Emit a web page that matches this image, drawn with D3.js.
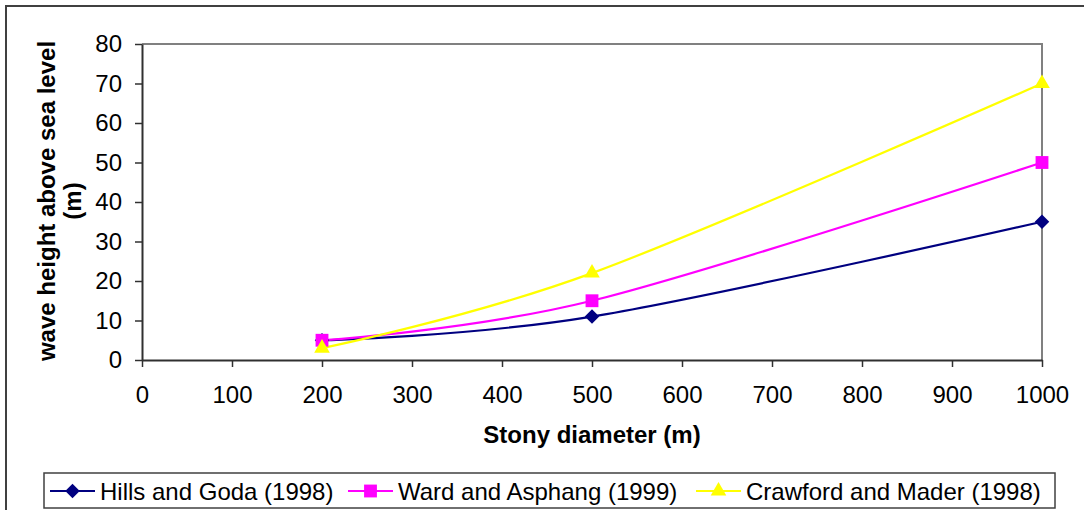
<!DOCTYPE html>
<html>
<head>
<meta charset="utf-8">
<script src="https://cdn.jsdelivr.net/npm/d3@7"></script>
<style>
  body { margin: 0; background: #fff; }
  svg text { font-family: Arial, "Liberation Sans", sans-serif; }
</style>
</head>
<body>
<svg id="chart" width="1084" height="510"></svg>
<script>
// data
const diameters = [200, 500, 1000];
const hillsGoda = [5, 11, 35];
const wardAsphang = [5, 15, 50];
const crawfordMader = [3, 22, 70];
const seriesNames = ["Hills and Goda (1998)", "Ward and Asphang (1999)", "Crawford and Mader (1998)"];
const xTicks = [0, 100, 200, 300, 400, 500, 600, 700, 800, 900, 1000];
const yTicks = [0, 10, 20, 30, 40, 50, 60, 70, 80];

const series = [
  { name: seriesNames[0], values: hillsGoda, color: "#000080", marker: d3.symbolDiamond2, size: 135 },
  { name: seriesNames[1], values: wardAsphang, color: "#FF00FF", marker: d3.symbolSquare2, size: 210 },
  { name: seriesNames[2], values: crawfordMader, color: "#FFFF00", marker: d3.symbolTriangle2, size: 175 }
];

const svg = d3.select("#chart");

// outer chart frame
svg.append("rect")
  .attr("x", 6).attr("y", 6)
  .attr("width", 1090).attr("height", 520)
  .attr("fill", "#fff")
  .attr("stroke", "#404040")
  .attr("stroke-width", 2);

const plot = { left: 142, top: 44, right: 1042, bottom: 360 };

const x = d3.scaleLinear().domain([0, 1000]).range([plot.left, plot.right]);
const y = d3.scaleLinear().domain([0, 80]).range([plot.bottom, plot.top]);

// plot area top/right border
svg.append("path")
  .attr("d", `M${plot.left},${plot.top}H${plot.right}V${plot.bottom}`)
  .attr("fill", "none")
  .attr("stroke", "#808080")
  .attr("stroke-width", 2);

// axes
const xAxis = svg.append("g")
  .attr("transform", `translate(0,${plot.bottom})`)
  .call(d3.axisBottom(x).tickValues(xTicks).tickFormat(d3.format("d"))
    .tickSize(7).tickPadding(19).tickSizeOuter(0));

const yAxis = svg.append("g")
  .attr("transform", `translate(${plot.left},0)`)
  .call(d3.axisLeft(y).tickValues(yTicks).tickSize(7).tickPadding(13).tickSizeOuter(0));

[xAxis, yAxis].forEach(a => {
  a.select(".domain").attr("stroke", "#303030").attr("stroke-width", 2);
  a.selectAll(".tick line").attr("stroke", "#303030").attr("stroke-width", 1.5);
  a.selectAll(".tick text")
    .attr("fill", "#000")
    .style("font-size", "24px")
    .style("font-family", "Arial, 'Liberation Sans', sans-serif");
});

// axis titles
svg.append("text")
  .attr("x", (plot.left + plot.right) / 2)
  .attr("y", 443)
  .attr("text-anchor", "middle")
  .style("font-size", "24px")
  .style("font-weight", "bold")
  .text("Stony diameter (m)");

const yTitle = svg.append("text")
  .attr("transform", `translate(55,201) rotate(-90)`)
  .attr("text-anchor", "middle")
  .style("font-size", "24px")
  .style("font-weight", "bold");
yTitle.append("tspan").attr("x", 0).attr("dy", 0).text("wave height above sea level");
yTitle.append("tspan").attr("x", 0).attr("dy", 26).text("(m)");

// lines
const line = d3.line()
  .x((d, i) => x(diameters[i]))
  .y(d => y(d))
  .curve(d3.curveCatmullRom.alpha(0));

series.forEach(s => {
  svg.append("path")
    .datum(s.values)
    .attr("d", line)
    .attr("fill", "none")
    .attr("stroke", s.color)
    .attr("stroke-width", 2.2);
});

series.forEach(s => {
  svg.selectAll(null)
    .data(s.values)
    .enter()
    .append("path")
    .attr("transform", (d, i) => `translate(${x(diameters[i])},${y(d)})`)
    .attr("d", d3.symbol().type(s.marker).size(s.size))
    .attr("fill", s.color);
});

// legend
svg.append("rect")
  .attr("x", 44).attr("y", 473)
  .attr("width", 1011).attr("height", 35)
  .attr("fill", "#fff")
  .attr("stroke", "#404040")
  .attr("stroke-width", 1.5);

const legendX = [50, 348, 696];
series.forEach((s, i) => {
  const g = svg.append("g").attr("transform", `translate(${legendX[i]},491)`);
  g.append("line")
    .attr("x1", 0).attr("x2", 45)
    .attr("stroke", s.color).attr("stroke-width", 2.2);
  g.append("path")
    .attr("transform", "translate(22.5,0)")
    .attr("d", d3.symbol().type(s.marker).size(s.size))
    .attr("fill", s.color);
  g.append("text")
    .attr("x", 50)
    .attr("dy", "0.36em")
    .style("font-size", "24px")
    .text(s.name);
});
</script>
</body>
</html>
